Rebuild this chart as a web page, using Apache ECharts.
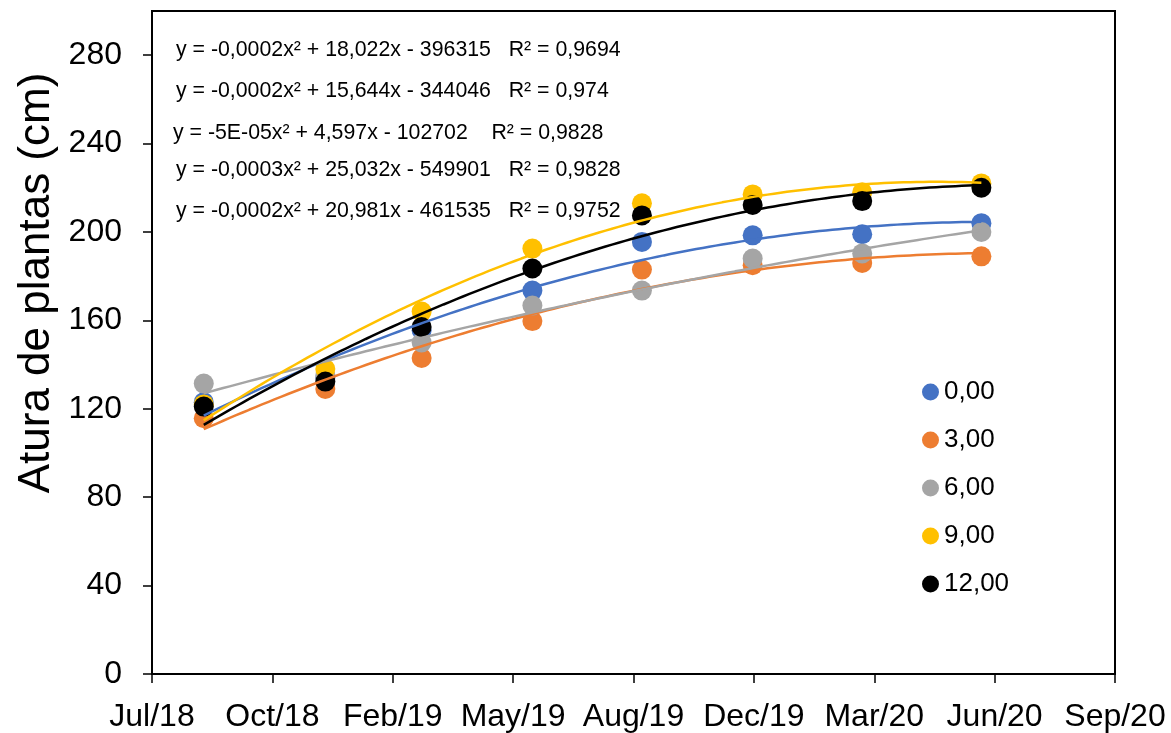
<!DOCTYPE html>
<html>
<head>
<meta charset="utf-8">
<script src="https://cdn.jsdelivr.net/npm/echarts@6/dist/echarts.min.js"></script>
<style>
  html, body { margin: 0; padding: 0; background: #fff; }
  #chart { width: 1171px; height: 733px; }
</style>
</head>
<body>
<div id="chart"></div>
<script>
// Sampling dates of plant height measurements
const dates = ['2018-08-31', '2018-12-10', '2019-02-28', '2019-05-31',
               '2019-08-30', '2019-11-30', '2020-02-29', '2020-06-07'];

// Plant height (cm) per treatment
const names = ['0,00', '3,00', '6,00', '9,00', '12,00'];
const h000 = [123, 134, 155.5, 173.5, 195.5, 198.5, 199, 204];
const h300 = [115.7, 129, 143, 159.7, 183, 185, 186, 189];
const h600 = [131.4, 135, 150, 166.7, 173.5, 188, 190.3, 200];
const h900 = [122, 138, 164, 192.5, 213, 217, 218, 222];
const h1200 = [121, 132.3, 157, 183.5, 207.5, 212.2, 214, 220];
const colors = ['#4472C4', '#ED7D31', '#A5A5A5', '#FFC000', '#000000'];

// Height axis tick values
const yTicks = [0, 40, 80, 120, 160, 200, 240, 280];

// Trendline labels (Excel date serial as x)
const equations = [
  'y = -0,0002x² + 18,022x - 396315   R² = 0,9694',
  'y = -0,0002x² + 15,644x - 344046   R² = 0,974',
  'y = -5E-05x² + 4,597x - 102702    R² = 0,9828',
  'y = -0,0003x² + 25,032x - 549901   R² = 0,9828',
  'y = -0,0002x² + 20,981x - 461535   R² = 0,9752'
];

// Axis origin and tick spacing (days)
const origin = Date.UTC(2018, 6, 19);
const DAY = 86400000;
const months = ['Jan','Feb','Mar','Apr','May','Jun','Jul','Aug','Sep','Oct','Nov','Dec'];
const toDay = s => (Date.parse(s + 'T00:00:00Z') - origin) / DAY;
const xs = dates.map(toDay);

// Least-squares quadratic fit
function quadFit(x, y) {
  const n = x.length;
  const mx = x.reduce((a, b) => a + b, 0) / n;
  const u = x.map(v => v - mx);
  let s = [0, 0, 0, 0, 0], t = [0, 0, 0];
  for (let i = 0; i < n; i++) {
    for (let k = 0; k < 5; k++) s[k] += Math.pow(u[i], k);
    for (let k = 0; k < 3; k++) t[k] += y[i] * Math.pow(u[i], k);
  }
  const M = [[s[0], s[1], s[2], t[0]], [s[1], s[2], s[3], t[1]], [s[2], s[3], s[4], t[2]]];
  for (let c = 0; c < 3; c++) {
    for (let r = c + 1; r < 3; r++) {
      const f = M[r][c] / M[c][c];
      for (let k = c; k < 4; k++) M[r][k] -= f * M[c][k];
    }
  }
  const b = [0, 0, 0];
  for (let r = 2; r >= 0; r--) {
    let v = M[r][3];
    for (let k = r + 1; k < 3; k++) v -= M[r][k] * b[k];
    b[r] = v / M[r][r];
  }
  return v => { const w = v - mx; return b[0] + b[1] * w + b[2] * w * w; };
}

const heights = [h000, h300, h600, h900, h1200];
const series = [];
heights.forEach((h, i) => {
  series.push({
    name: names[i], type: 'scatter', symbol: 'circle', symbolSize: 20,
    itemStyle: { color: colors[i], opacity: 1 },
    data: xs.map((x, j) => [x, h[j]]), z: 2 + i
  });
});
heights.forEach((h, i) => {
  const f = quadFit(xs, h);
  const pts = [];
  const a = xs[0], b = xs[xs.length - 1];
  for (let k = 0; k <= 120; k++) { const x = a + (b - a) * k / 120; pts.push([x, f(x)]); }
  series.push({
    name: 'trend ' + names[i], type: 'line', data: pts, showSymbol: false,
    lineStyle: { color: colors[i], width: 2.5 }, z: 10 + i, silent: true
  });
});

const FONT = "'Liberation Sans', Arial, sans-serif";
const eqX = [176, 176, 173, 176, 176];
const eqY = [50, 91, 133, 170, 211];
const graphics = equations.map((t, i) => ({
  type: 'text', x: eqX[i], y: eqY[i],
  style: { text: t, fontSize: 21.3, fontFamily: FONT, fill: '#000', verticalAlign: 'middle' }
}));
graphics.push({
  type: 'text', x: 37, y: 283, rotation: Math.PI / 2,
  style: { text: 'Atura de plantas (cm)', fontSize: 44, fontFamily: FONT, fill: '#000',
           align: 'center', verticalAlign: 'middle' }
});

const chart = echarts.init(document.getElementById('chart'));
chart.setOption({
  animation: false,
  backgroundColor: '#fff',
  grid: { left: 152, right: 56, top: 11, bottom: 56, show: true, borderColor: '#000', borderWidth: 2 },
  xAxis: {
    type: 'value', min: 0, max: 800, interval: 100,
    axisLine: { lineStyle: { color: '#000', width: 2 } },
    axisTick: { show: true, length: 9, lineStyle: { color: '#000', width: 1.5 } },
    splitLine: { show: false },
    axisLabel: {
      color: '#000', fontSize: 32, fontFamily: FONT, margin: 27,
      formatter: v => {
        const d = new Date(origin + v * DAY);
        return months[d.getUTCMonth()] + '/' + String(d.getUTCFullYear()).slice(2);
      }
    }
  },
  yAxis: {
    type: 'value', min: 0, max: 300, interval: 20,
    axisLine: { show: true, lineStyle: { color: '#000', width: 2 } },
    axisTick: { show: true, length: 9, customValues: yTicks, lineStyle: { color: '#000', width: 1.5 } },
    splitLine: { show: false },
    axisLabel: { color: '#000', fontSize: 32, fontFamily: FONT, margin: 30, customValues: yTicks }
  },
  legend: {
    data: names, orient: 'vertical', left: 917, top: 374,
    icon: 'circle', itemWidth: 17, itemHeight: 17, itemGap: 22,
    textStyle: { color: '#000', fontSize: 26, fontFamily: FONT, lineHeight: 25.5 }
  },
  graphic: graphics,
  series: series
});
</script>
</body>
</html>
